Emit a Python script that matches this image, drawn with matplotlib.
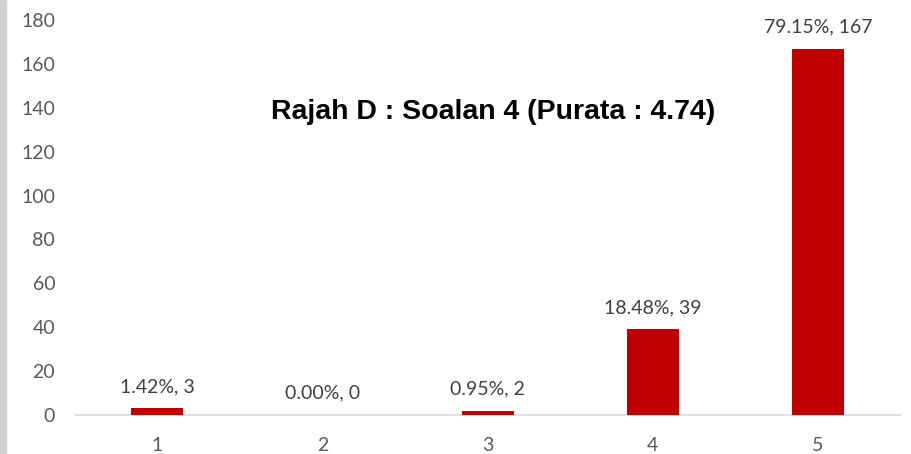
import matplotlib.pyplot as plt
from matplotlib.patches import Rectangle

categories = ["1", "2", "3", "4", "5"]
counts = [3, 0, 2, 39, 167]
percents = ["1.42%", "0.00%", "0.95%", "18.48%", "79.15%"]
title = "Rajah D : Soalan 4 (Purata : 4.74)"

fig = plt.figure(figsize=(9.12, 4.54), dpi=100)
ax = fig.add_axes([0.0819, 0.0859, 0.9057, 0.8700])

# gray strip on the left edge
fig.patches.append(Rectangle((0, 0), 6 / 912, 1, transform=fig.transFigure,
                             color="#d0d0d0", zorder=0))

x = list(range(len(categories)))
ax.bar(x, counts, width=0.315, color="#c00000", zorder=3)

for i, (c, p) in enumerate(zip(counts, percents)):
    ax.annotate(f"{p}, {c}", (i, c), xytext=(0, 22), textcoords="offset pixels",
                ha="center", va="center", fontsize=14, color="#404040",
                family="Lato")

ax.set_xlim(-0.5, 4.5)
ax.set_ylim(0, 180)
ax.set_yticks(range(0, 181, 20))
ax.set_xticks(x)
ax.set_xticklabels(categories)
for lab in ax.get_xticklabels() + ax.get_yticklabels():
    lab.set_family("Lato")
    lab.set_fontsize(14)
    lab.set_color("#595959")
ax.tick_params(length=0)
ax.tick_params(axis="y", pad=14)
ax.tick_params(axis="x", pad=16)

for s in ["top", "right", "left"]:
    ax.spines[s].set_visible(False)
ax.spines["bottom"].set_color("#d9d9d9")
ax.spines["bottom"].set_linewidth(1.2)

ax.text(0.507, 0.767, title, transform=ax.transAxes, ha="center", va="center",
        fontsize=20.5, fontweight="bold", family="Liberation Sans", color="black")

fig.savefig("out.png", dpi=100)
